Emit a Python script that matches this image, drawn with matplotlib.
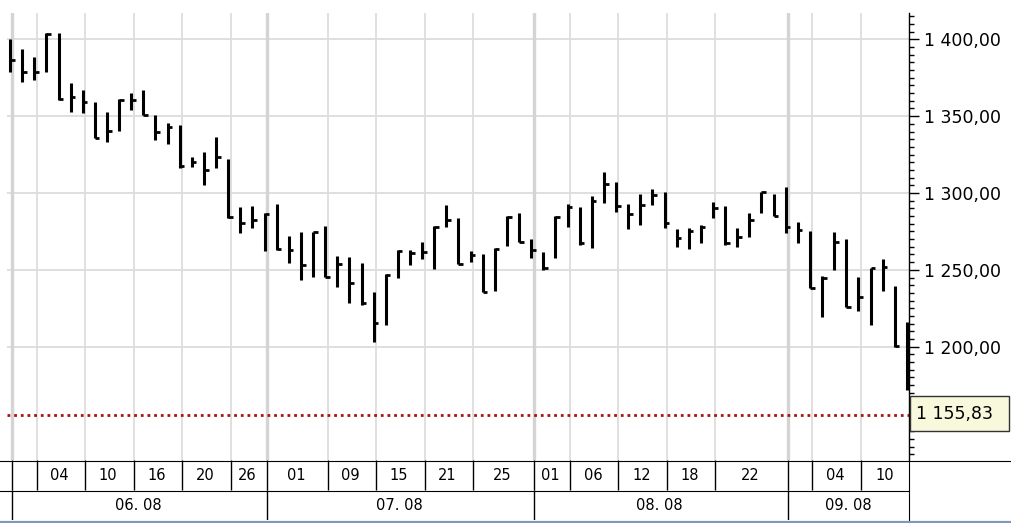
import numpy as np
import matplotlib
matplotlib.use("Agg")
import matplotlib.pyplot as plt
from matplotlib.lines import Line2D
from matplotlib.patches import Rectangle
from matplotlib.ticker import MultipleLocator, FuncFormatter

# daily HLC bars, Jun - Sep 2008
HIGH = [1400.2, 1393.7, 1388.7, 1404.0, 1403.9, 1371.4, 1367.3, 1359.0, 1352.9, 1361.2,
        1364.9, 1367.0, 1350.7, 1345.5, 1344.2, 1323.6, 1326.9, 1336.2, 1321.9, 1290.7,
        1291.5, 1286.8, 1292.8, 1272.0, 1274.8, 1274.8, 1278.5, 1259.0, 1258.2, 1254.3,
        1235.8, 1247.3, 1262.9, 1262.9, 1268.3, 1278.5, 1292.2, 1283.5, 1262.3, 1260.1,
        1264.0, 1285.2, 1286.8, 1270.1, 1261.8, 1285.2, 1292.7, 1291.1, 1298.2, 1313.9,
        1307.0, 1292.8, 1299.2, 1302.6, 1300.5, 1276.6, 1277.4, 1279.2, 1294.0, 1291.7,
        1277.4, 1286.8, 1300.8, 1299.4, 1303.7, 1281.3, 1275.3, 1246.0, 1274.8, 1269.9,
        1245.2, 1251.0, 1256.9, 1239.5, 1216.3]
LOW = [1378.9, 1372.0, 1373.5, 1378.9, 1360.5, 1352.5, 1351.9, 1335.6, 1333.0, 1340.3,
       1354.0, 1350.7, 1334.5, 1331.6, 1316.1, 1317.1, 1305.2, 1316.1, 1283.5, 1274.2,
       1277.0, 1262.5, 1262.9, 1254.7, 1243.4, 1245.5, 1245.5, 1239.0, 1228.6, 1227.1,
       1203.3, 1214.1, 1244.5, 1253.2, 1256.9, 1250.4, 1278.1, 1253.6, 1254.8, 1235.8,
       1236.3, 1265.7, 1267.9, 1257.5, 1249.9, 1257.5, 1278.1, 1266.2, 1264.0, 1293.7,
       1287.6, 1276.9, 1279.2, 1292.2, 1277.0, 1265.1, 1263.6, 1267.3, 1283.5, 1266.2,
       1265.1, 1271.6, 1287.2, 1285.0, 1274.2, 1267.7, 1238.0, 1219.5, 1249.9, 1226.0,
       1223.4, 1214.1, 1236.4, 1200.0, 1172.0]
CLOSE = [1386.5, 1378.9, 1378.9, 1403.5, 1361.1, 1362.5, 1359.2, 1335.6, 1340.3, 1360.5,
         1360.5, 1350.7, 1339.7, 1342.9, 1317.5, 1320.4, 1315.0, 1323.6, 1284.2, 1280.7,
         1282.4, 1286.3, 1263.4, 1262.9, 1253.2, 1274.6, 1245.5, 1253.6, 1241.3, 1228.2,
         1215.6, 1246.7, 1262.3, 1260.8, 1261.8, 1278.1, 1282.4, 1253.8, 1259.7, 1235.8,
         1263.5, 1284.6, 1267.9, 1262.9, 1251.0, 1284.6, 1291.1, 1267.3, 1294.8, 1305.9,
         1291.5, 1286.3, 1292.2, 1298.7, 1280.3, 1270.5, 1275.3, 1278.1, 1290.0, 1267.3,
         1271.6, 1282.4, 1300.8, 1285.0, 1278.1, 1275.9, 1238.0, 1244.5, 1268.3, 1226.0,
         1232.5, 1251.0, 1252.1, 1200.4, 1175.0]
LAST = 1155.83

# date grid: bar index where each day cell starts, and its label
GRID_IDX = [0, 2, 6, 10, 14, 18, 21, 26, 30, 34, 38, 43, 46, 50, 54, 58, 64, 66, 70]
DAY_LABELS = ["", "04", "10", "16", "20", "26", "01", "09", "15", "21", "25",
              "01", "06", "12", "18", "22", "", "04", "10"]
MONTH_IDX = [0, 21, 43, 64]
MONTH_LABELS = ["06. 08", "07. 08", "08. 08", "09. 08"]
PRICE_TICKS = [1200, 1250, 1300, 1350, 1400]

W, H = 1012, 523
fx = lambda px: px / W
fy = lambda py: 1 - py / H
XMIN, XMAX = -0.25, 74.17
GOFF = 0.2  # grid lines sit a touch right of the bar centre

fig = plt.figure(figsize=(W / 100, H / 100), dpi=100)
ax = fig.add_axes([fx(7), fy(460), fx(909) - fx(7), fy(13) - fy(460)])
ax.set_xlim(XMIN, XMAX)
ax.set_ylim(1126.3, 1417.1)

for p in PRICE_TICKS:
    ax.axhline(p, color="#dcdcdc", lw=1.3, zorder=0)
for g in GRID_IDX:
    thick = g in MONTH_IDX
    ax.axvline(g + GOFF, color="#d4d4d4" if thick else "#dddddd",
               lw=2.4 if thick else 1.3, zorder=0)

idx = np.arange(len(HIGH))
ax.vlines(idx, LOW, HIGH, color="black", lw=2.2, zorder=3)
ax.hlines(CLOSE, idx, idx + 0.38, color="black", lw=2.0, zorder=3)

ax.axhline(LAST, color="#a51515", lw=2.0, linestyle=(0, (1, 1.4)), zorder=2)

for s in ["left", "top", "bottom"]:
    ax.spines[s].set_visible(False)
ax.spines["right"].set_linewidth(1.0)
ax.yaxis.tick_right()
ax.set_yticks(PRICE_TICKS)
ax.yaxis.set_minor_locator(MultipleLocator(5))
ax.yaxis.set_major_formatter(FuncFormatter(
    lambda v, _: f"{v:,.2f}".replace(",", " ").replace(".", ",")))
ax.tick_params(axis="y", which="major", length=7.5, width=1, pad=3, labelsize=12.5)
ax.tick_params(axis="y", which="minor", length=3.5, width=1)
ax.tick_params(axis="x", bottom=False, labelbottom=False)

# date rows under the chart
axd = fig.add_axes([fx(7), fy(520), fx(909) - fx(7), fy(460) - fy(520)])
axd.set_xlim(XMIN, XMAX)
axd.set_ylim(0, 2)
axd.axis("off")
ends = GRID_IDX[1:] + [XMAX]
for g, e, lab in zip(GRID_IDX, ends, DAY_LABELS):
    axd.vlines(g + GOFF, 1, 2, color="black", lw=1.0)
    if lab:
        axd.text((g + e) / 2 + GOFF / 2, 1.5, lab, ha="center", va="center", fontsize=10.5)
mends = MONTH_IDX[1:] + [XMAX]
for m, e, lab in zip(MONTH_IDX, mends, MONTH_LABELS):
    axd.vlines(m + GOFF, 0, 1, color="black", lw=1.0)
    axd.text((m + e) / 2 + GOFF / 2, 0.5, lab, ha="center", va="center", fontsize=10.5)

fig.add_artist(Line2D([0, 1], [fy(460.5), fy(460.5)], color="black", lw=0.8))
fig.add_artist(Line2D([0, fx(909)], [fy(490.5), fy(490.5)], color="black", lw=0.8))
fig.add_artist(Line2D([fx(909), fx(909)], [fy(460), 0], color="black", lw=0.8))
fig.add_artist(Line2D([0, 1], [fy(521.5), fy(521.5)], color="#7f98c0", lw=1.6))

# last price tag
fig.add_artist(Rectangle((fx(910), fy(431)), fx(1009) - fx(910), fy(396) - fy(431),
                         transform=fig.transFigure, facecolor="#f8f8dc",
                         edgecolor="#333333", lw=1.0, zorder=5))
fig.text(fx(916), fy(414), "1 155,83", ha="left", va="center", fontsize=12.5, zorder=6)

fig.savefig("out.png", dpi=100)
